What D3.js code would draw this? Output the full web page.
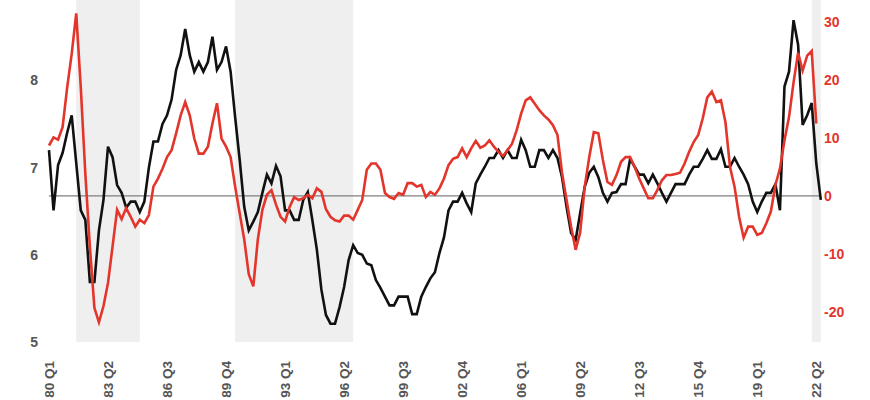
<!DOCTYPE html>
<html>
<head>
<meta charset="utf-8">
<script src="https://cdn.jsdelivr.net/npm/d3@7/dist/d3.min.js"></script>
<style>
  html, body { margin: 0; padding: 0; background: #fff; }
  svg { display: block; font-family: "Liberation Sans", Arial, sans-serif; }
</style>
</head>
<body>
<svg id="chart" width="870" height="400"></svg>
<script>
// ---- data ----
const startYear = 1980;
const nQuarters = 171; // 1980 Q1 .. 2022 Q3
const categories = d3.range(nQuarters).map(i => `${startYear + Math.floor(i / 4)} Q${(i % 4) + 1}`);

const tickQuarters = ["1980 Q1","1983 Q2","1986 Q3","1989 Q4","1993 Q1","1996 Q2","1999 Q3",
                      "2002 Q4","2006 Q1","2009 Q2","2012 Q3","2015 Q4","2019 Q1","2022 Q2"];
const tickLabels = ["80 Q1","83 Q2","86 Q3","89 Q4","93 Q1","96 Q2","99 Q3",
                    "02 Q4","06 Q1","09 Q2","12 Q3","15 Q4","19 Q1","22 Q2"];

const shadedPeriods = [["1981 Q3","1985 Q1"],["1990 Q2","1996 Q4"],["2022 Q1","2022 Q3"]];

const leftTicks = [5, 6, 7, 8];
const rightTicks = [-20, -10, 0, 10, 20, 30];

// black series (left axis)
const blackSeries = [
7.20,6.51,7.03,7.17,7.40,7.60,7.05,6.51,6.40,5.69,
5.69,6.28,6.63,7.24,7.12,6.80,6.71,6.54,6.61,6.61,
6.49,6.61,7.00,7.30,7.30,7.50,7.60,7.78,8.12,8.29,
8.59,8.29,8.10,8.21,8.10,8.21,8.50,8.12,8.21,8.39,
8.10,7.58,7.09,6.55,6.28,6.38,6.49,6.71,6.92,6.82,
7.02,6.90,6.51,6.51,6.40,6.40,6.63,6.72,6.40,6.06,
5.60,5.31,5.21,5.21,5.40,5.63,5.94,6.11,6.02,6.00,
5.90,5.88,5.71,5.62,5.52,5.42,5.42,5.52,5.52,5.52,
5.32,5.32,5.52,5.63,5.73,5.80,6.02,6.20,6.51,6.61,
6.61,6.71,6.59,6.49,6.82,6.92,7.01,7.11,7.11,7.20,
7.11,7.20,7.11,7.11,7.32,7.20,7.01,7.01,7.20,7.20,
7.11,7.20,7.11,6.89,6.55,6.25,6.17,6.48,6.78,6.94,
7.01,6.89,6.71,6.61,6.71,6.72,6.81,6.81,7.10,7.01,
6.92,6.92,6.82,6.92,6.82,6.71,6.61,6.71,6.81,6.81,
6.81,6.92,7.01,7.01,7.10,7.20,7.10,7.10,7.21,7.01,
7.01,7.11,7.01,6.92,6.81,6.61,6.49,6.61,6.71,6.71,
6.81,6.51,7.93,8.10,8.69,8.41,7.49,7.60,7.74,7.05,
6.63
];

// red series (right axis)
const redSeries = [
8.7,10.1,9.7,11.9,18.7,24.5,31.5,18.7,3.9,-8.7,
-19.3,-21.8,-19.0,-15.0,-8.7,-2.4,-4.0,-2.1,-3.6,-5.3,
-4.1,-4.7,-3.3,1.6,3.0,4.7,6.7,7.9,10.8,13.9,
16.2,13.9,9.9,7.3,7.3,8.5,12.5,16.0,9.9,8.5,
6.7,1.6,-3.0,-7.5,-13.5,-15.6,-7.5,-2.4,0.2,1.0,
-1.5,-3.6,-4.4,-1.9,-0.2,-0.7,-0.4,0.2,-0.4,1.3,
0.7,-2.3,-3.6,-4.2,-4.4,-3.4,-3.4,-4.1,-2.4,-0.7,
4.5,5.6,5.6,4.5,0.5,-0.2,-0.5,0.5,0.2,2.2,
2.2,1.6,1.9,-0.2,0.7,0.2,1.3,3.0,5.3,6.4,
6.7,8.2,6.7,8.2,9.5,8.3,8.7,9.6,8.5,7.6,
6.9,7.9,9.0,11.3,14.2,16.5,17.0,15.9,14.8,13.9,
13.2,12.2,10.5,4.0,-0.7,-5.3,-9.3,-6.3,1.6,6.7,
11.0,10.8,6.2,2.4,1.9,3.6,5.9,6.7,6.7,5.0,
3.0,1.3,-0.4,-0.4,1.0,2.7,3.6,3.6,3.8,4.0,
5.6,7.6,9.3,10.5,13.4,17.0,18.0,16.2,16.5,12.7,
5.0,1.6,-3.6,-7.2,-5.3,-5.3,-6.7,-6.4,-4.7,-2.7,
1.9,4.7,9.6,13.6,19.6,24.7,21.6,24.2,25.0,12.5
];

// ---- layout ----
const svg = d3.select("#chart");
const plotTop = 0, plotBottom = 342;
const x = d3.scalePoint().domain(categories).range([49, 820.8]);
const yL = d3.scaleLinear().domain([5, 8.922]).range([plotBottom, plotTop]);
const yR = d3.scaleLinear().domain([-25.2, 33.8]).range([plotBottom, plotTop]);

// shading
svg.append("g").selectAll("rect").data(shadedPeriods).join("rect")
  .attr("x", d => x(d[0]))
  .attr("width", d => x(d[1]) - x(d[0]))
  .attr("y", plotTop)
  .attr("height", plotBottom - plotTop)
  .attr("fill", "#efefef");

// zero line (right axis)
svg.append("line")
  .attr("x1", x(categories[0])).attr("x2", x(categories[categories.length - 1]))
  .attr("y1", yR(0)).attr("y2", yR(0))
  .attr("stroke", "#7f7f7f").attr("stroke-width", 1.2);

// lines
const lineL = d3.line().x((d, i) => x(categories[i])).y(d => yL(d));
const lineR = d3.line().x((d, i) => x(categories[i])).y(d => yR(d));

svg.append("path").datum(blackSeries)
  .attr("d", lineL).attr("fill", "none")
  .attr("stroke", "#111").attr("stroke-width", 2.6).attr("stroke-linejoin", "miter");

svg.append("path").datum(redSeries)
  .attr("d", lineR).attr("fill", "none")
  .attr("stroke", "#e3352b").attr("stroke-width", 2.6).attr("stroke-linejoin", "miter");

// left axis
const axL = svg.append("g").attr("transform", "translate(38,0)")
  .call(d3.axisLeft(yL).tickValues(leftTicks).tickSize(0).tickPadding(0).tickFormat(d => String(d)));
axL.select(".domain").remove();
axL.selectAll("text").attr("font-size", 14).attr("font-weight", "bold").attr("fill", "#555")
  .attr("font-family", "Liberation Sans, Arial, sans-serif");

// right axis (plain hyphen minus, as in the reference)
const axR = svg.append("g").attr("transform", "translate(824,0)")
  .call(d3.axisRight(yR).tickValues(rightTicks).tickSize(0).tickPadding(0).tickFormat(d => String(d)));
axR.select(".domain").remove();
axR.selectAll("text").attr("font-size", 14).attr("font-weight", "bold").attr("fill", "#e3352b")
  .attr("font-family", "Liberation Sans, Arial, sans-serif");

// bottom axis
const labelOf = new Map(tickQuarters.map((q, i) => [q, tickLabels[i]]));
const axB = svg.append("g").attr("transform", `translate(0,${plotBottom})`)
  .call(d3.axisBottom(x).tickValues(tickQuarters).tickSize(0).tickPadding(0).tickFormat(q => labelOf.get(q)));
axB.select(".domain").remove();
axB.selectAll("text")
  .attr("transform", "rotate(-90)")
  .attr("x", -19).attr("y", 0).attr("dy", "0.35em")
  .attr("text-anchor", "end")
  .attr("font-size", 13.5).attr("font-weight", "bold").attr("fill", "#555")
  .attr("font-family", "Liberation Sans, Arial, sans-serif");
</script>
</body>
</html>
